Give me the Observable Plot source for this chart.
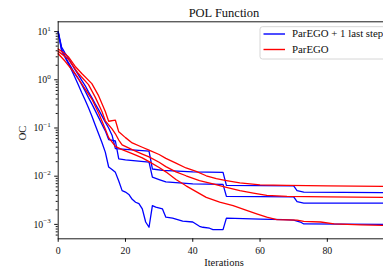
<!DOCTYPE html>
<html><head><meta charset="utf-8">
<script src="https://cdn.jsdelivr.net/npm/d3@7"></script>
<script src="https://cdn.jsdelivr.net/npm/@observablehq/plot@0.6"></script>
<style>
body{margin:0;background:#fff;}
#wrap{position:relative;width:383px;height:269px;overflow:hidden;font-family:"Liberation Serif",serif;}
#wrap svg{position:absolute;left:0;top:0;}
</style></head><body><div id="wrap"></div>
<script>
const chartTitle = "POL Function";
const xLabel = "Iterations";
const yLabel = "OC";
const seriesNames = ["ParEGO + 1 last step", "ParEGO"];
const seriesColors = ["#0000ff", "#ff0000"];
const xTicks = [0, 20, 40, 60, 80];
const yTicks = [1e-3, 1e-2, 1e-1, 1, 10];
const yTickBase = "10";
const yTickExponents = ["\u22123", "\u22122", "\u22121", "0", "1"];

// ParEGO + 1 last step (blue)
const blueHighIter = [0,1,2,3,4,5,6,7,8,9,10,11,12,13,14,15,16,17,27,28,31,40,49,50,70,71,73,97];
const blueHighOC   = [10.0,4.79,3.63,2.82,2.14,1.62,1.26,0.977,0.759,0.562,0.427,0.316,0.240,0.178,0.132,0.100,0.0708,0.0372,0.0331,0.0141,0.0132,0.0123,0.0120,0.00646,0.00631,0.00501,0.00468,0.00457];
const blueMidIter  = [0,1,2,3,4,5,6,7,8,9,10,11,12,13,14,15,17,18,20,27,28,30,32,40,49,50,70,71,73,97];
const blueMidOC    = [9.55,4.37,3.16,2.29,1.74,1.32,1.05,0.794,0.589,0.427,0.316,0.229,0.166,0.120,0.0871,0.0575,0.0537,0.0229,0.0219,0.0195,0.00955,0.00851,0.00759,0.00692,0.00676,0.00380,0.00372,0.00295,0.00275,0.00275];
const blueLowIter  = [0,1,2,3,4,5,6,7,8,9,10,11,12,13,14,15,16,17,18,19,20,21,22,23,24,25,26,27,28,29,31,32,34,37,40,42,43,45,46,49,50,60,67,70,72,73,97];
const blueLowOC    = [10.0,3.98,2.95,2.19,1.58,1.12,0.776,0.537,0.380,0.263,0.178,0.115,0.0759,0.0501,0.0316,0.0155,0.0138,0.0120,0.00794,0.00501,0.00468,0.00417,0.00331,0.00288,0.00269,0.00209,0.00112,0.000871,0.00245,0.00229,0.00209,0.00141,0.00135,0.00117,0.00112,0.000912,0.000871,0.000832,0.000776,0.000776,0.00135,0.00129,0.00126,0.00123,0.00112,0.00102,0.00100];

// ParEGO (red)
const redHighIter = [0,2,3,5,7,10,12,14,15,17,18,20,22,25,27,30,32,35,38,41,44,47,50,54,60,68,80,97];
const redHighOC   = [4.37,3.47,3.02,1.91,1.35,0.832,0.468,0.219,0.138,0.145,0.0832,0.0631,0.0490,0.0398,0.0347,0.0282,0.0234,0.0186,0.0148,0.0126,0.0102,0.00891,0.00813,0.00724,0.00661,0.00646,0.00631,0.00617];
const redMidIter  = [0,3,6,9,11,13,14,16,17,18,19,22,25,27,30,32,35,38,42,46,50,54,58,62,68,80,97];
const redMidOC    = [3.89,2.69,1.35,0.794,0.437,0.219,0.141,0.0955,0.0759,0.0562,0.0447,0.0355,0.0288,0.0251,0.0195,0.0158,0.0123,0.0102,0.00813,0.00692,0.00589,0.00501,0.00447,0.00398,0.00380,0.00372,0.00363];
const redLowIter  = [0,2,5,8,10,12,14,15,17,19,22,25,27,30,32,35,38,41,44,48,52,56,59,62,65,71,73,78,82,90,97];
const redLowOC    = [3.47,2.45,1.35,0.646,0.398,0.204,0.0955,0.0631,0.0417,0.0355,0.0295,0.0240,0.0200,0.0151,0.0123,0.00851,0.00631,0.00479,0.00363,0.00288,0.00245,0.00195,0.00166,0.00141,0.00126,0.00123,0.00115,0.00112,0.00102,0.000977,0.000955];

const series = [
  {method: seriesNames[0], key: "bh", it: blueHighIter, v: blueHighOC},
  {method: seriesNames[0], key: "bm", it: blueMidIter, v: blueMidOC},
  {method: seriesNames[0], key: "bl", it: blueLowIter, v: blueLowOC},
  {method: seriesNames[1], key: "rh", it: redHighIter, v: redHighOC},
  {method: seriesNames[1], key: "rm", it: redMidIter, v: redMidOC},
  {method: seriesNames[1], key: "rl", it: redLowIter, v: redLowOC}
];
const rows = series.flatMap(s => s.it.map((x, i) => ({method: s.method, key: s.key, iter: x, oc: s.v[i]})));

const yDomain = [5.02e-4, 15.97];
const xDomain = [0, 96.7];
const minorTicks = [];
for (let k = -4; k <= 1; k++) for (let m = 2; m <= 9; m++) {
  const v = m * Math.pow(10, k);
  if (v >= yDomain[0] && v <= yDomain[1]) minorTicks.push(v);
}

const W = 383, H = 269;
const plot = Plot.plot({
  width: W, height: H,
  marginLeft: 57.7, marginTop: 21.3, marginBottom: 30.7, marginRight: 0,
  style: {fontFamily: "'Liberation Serif', serif", fontSize: "9.8px", color: "#111", background: "#fff"},
  x: {domain: xDomain},
  y: {type: "log", domain: yDomain},
  color: {domain: seriesNames, range: seriesColors},
  marks: [
    Plot.line(rows, {x: "iter", y: "oc", z: "key", stroke: "method", strokeWidth: 1.3}),
    Plot.axisY({ticks: minorTicks, tickSize: 2, tickFormat: () => "", label: null}),
    Plot.axisY({ticks: yTicks, tickSize: 3.5, tickPadding: 4, tickFormat: d => yTickBase + "^" + yTickExponents[yTicks.indexOf(d)], label: null}),
    Plot.axisX({ticks: xTicks, tickSize: 3.5, tickPadding: 5, label: null}),
    Plot.ruleX([xDomain[0]], {stroke: "#000", strokeWidth: 0.9}),
    Plot.ruleY(yDomain, {stroke: "#000", strokeWidth: 0.9})
  ]
});
const wrap = document.getElementById("wrap");
wrap.appendChild(plot);

// render y tick labels as base with superscript exponent
d3.select(plot).selectAll("text").each(function () {
  const t = this.textContent;
  if (!t || t.indexOf("^") < 0) return;
  const [base, exp] = t.split("^");
  const el = d3.select(this);
  el.text(null);
  el.append("tspan").text(base);
  el.append("tspan").attr("font-size", "7px").attr("dy", "-4.2").text(exp);
});

// overlay: title, axis labels, legend
const ov = d3.select(wrap).append("svg").attr("width", W).attr("height", H)
  .style("font-family", "'Liberation Serif', serif");
ov.append("text").attr("x", 224).attr("y", 16.5).attr("text-anchor", "middle")
  .attr("font-size", 12.5).attr("fill", "#111").text(chartTitle);
ov.append("text").attr("x", 224).attr("y", 265.5).attr("text-anchor", "middle")
  .attr("font-size", 10.5).attr("fill", "#111").text(xLabel);
ov.append("text").attr("transform", "translate(25.5,133) rotate(-90)").attr("text-anchor", "middle")
  .attr("font-size", 10.5).attr("fill", "#111").text(yLabel);
const lg = ov.append("g");
lg.append("rect").attr("x", 260).attr("y", 26.7).attr("width", 140).attr("height", 32.3)
  .attr("rx", 2.5).attr("fill", "#fff").attr("fill-opacity", 0.85).attr("stroke", "#ccc").attr("stroke-width", 0.8);
seriesNames.forEach((name, i) => {
  const yy = 34 + i * 15.5;
  lg.append("line").attr("x1", 263.5).attr("x2", 285).attr("y1", yy).attr("y2", yy)
    .attr("stroke", seriesColors[i]).attr("stroke-width", 1.4);
  lg.append("text").attr("x", 292).attr("y", yy + 3.3).attr("font-size", 10.8).attr("fill", "#111").text(name);
});
</script></body></html>
